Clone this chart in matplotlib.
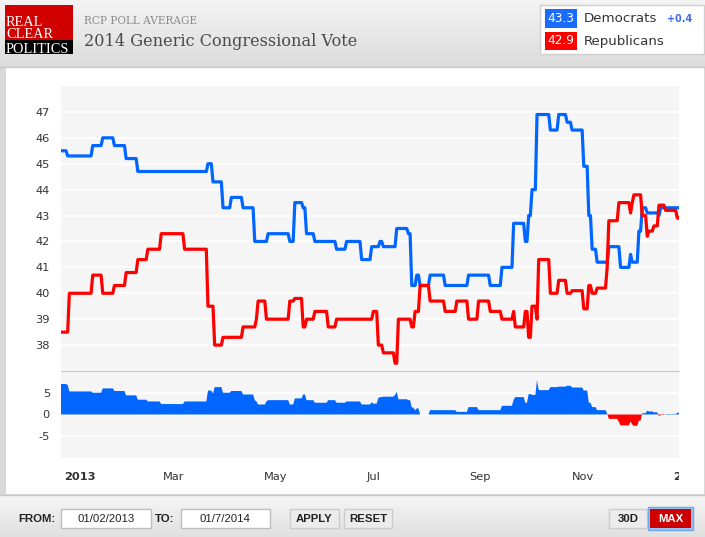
import numpy as np
import pandas as pd
import matplotlib
matplotlib.use("Agg")
import matplotlib.pyplot as plt
import matplotlib.dates as mdates
from matplotlib.patches import Rectangle
from matplotlib.colors import LinearSegmentedColormap
from matplotlib.transforms import (blended_transform_factory, ScaledTranslation,
                                   Bbox, TransformedBbox)

plt.rcParams["axes.unicode_minus"] = False

BLUE = "#0066ff"
RED = "#ff0000"

# %% data: each poll average holds from its date until the next change

dem_dates = ["2013-01-02", "2013-01-06", "2013-01-21", "2013-01-27", "2013-02-03",
             "2013-02-10", "2013-02-17", "2013-03-31", "2013-04-03", "2013-04-09",
             "2013-04-14", "2013-04-21", "2013-04-28", "2013-05-06", "2013-05-19",
             "2013-05-22", "2013-05-27", "2013-05-29", "2013-06-03", "2013-06-16",
             "2013-06-22", "2013-07-01", "2013-07-07", "2013-07-12", "2013-07-14",
             "2013-07-22", "2013-07-29", "2013-07-31", "2013-08-03", "2013-08-05",
             "2013-08-11", "2013-08-20", "2013-09-03", "2013-09-16", "2013-09-23",
             "2013-09-30", "2013-10-07", "2013-10-09", "2013-10-11", "2013-10-14",
             "2013-10-22", "2013-10-27", "2013-11-01", "2013-11-04", "2013-11-11",
             "2013-11-14", "2013-11-16", "2013-11-19", "2013-11-26", "2013-12-03",
             "2013-12-09", "2013-12-10", "2013-12-14", "2013-12-16", "2013-12-19",
             "2013-12-26", "2013-12-27"]
dem_vals = [45.5, 45.3, 45.7, 46.0, 45.7,
            45.2, 44.7, 45.0, 44.3, 43.3,
            43.7, 43.3, 42.0, 42.3, 42.0,
            43.5, 43.3, 42.3, 42.0, 41.7,
            42.0, 41.3, 41.8, 42.0, 41.8,
            42.5, 42.3, 40.3, 40.7, 40.3,
            40.7, 40.3, 40.7, 40.3, 41.0,
            42.7, 42.0, 43.0, 44.0, 46.9,
            46.3, 46.9, 46.6, 46.3, 44.9,
            43.0, 41.7, 41.2, 41.8, 41.0,
            41.5, 41.2, 42.4, 43.3, 43.1,
            43.0, 43.3]

rep_dates = ["2013-01-02", "2013-01-07", "2013-01-21", "2013-01-27", "2013-02-03",
             "2013-02-10", "2013-02-17", "2013-02-23", "2013-03-03", "2013-03-17",
             "2013-03-31", "2013-04-04", "2013-04-09", "2013-04-21", "2013-04-29",
             "2013-04-30", "2013-05-05", "2013-05-19", "2013-05-22", "2013-05-27",
             "2013-05-29", "2013-06-03", "2013-06-11", "2013-06-16", "2013-07-08",
             "2013-07-11", "2013-07-14", "2013-07-21", "2013-07-23", "2013-07-31",
             "2013-08-02", "2013-08-05", "2013-08-11", "2013-08-20", "2013-08-27",
             "2013-09-03", "2013-09-09", "2013-09-16", "2013-09-23", "2013-09-30",
             "2013-10-01", "2013-10-07", "2013-10-09", "2013-10-11", "2013-10-14",
             "2013-10-15", "2013-10-22", "2013-10-27", "2013-11-01", "2013-11-04",
             "2013-11-11", "2013-11-14", "2013-11-16", "2013-11-19", "2013-11-25",
             "2013-11-26", "2013-12-02", "2013-12-09", "2013-12-10", "2013-12-11",
             "2013-12-16", "2013-12-19", "2013-12-20", "2013-12-23", "2013-12-26",
             "2013-12-30", "2014-01-06"]
rep_vals = [38.5, 40.0, 40.7, 40.0, 40.3,
            40.8, 41.3, 41.7, 42.3, 41.7,
            39.5, 38.0, 38.3, 38.7, 39.0,
            39.7, 39.0, 39.7, 39.8, 38.7,
            39.0, 39.3, 38.7, 39.0, 39.3,
            38.0, 37.7, 37.3, 39.0, 38.7,
            39.3, 40.3, 39.7, 39.3, 39.7,
            39.0, 39.7, 39.3, 39.0, 39.3,
            38.7, 39.3, 38.3, 39.5, 39.0,
            41.3, 40.0, 40.5, 40.0, 40.1,
            39.4, 40.3, 40.0, 40.2, 41.0,
            42.8, 43.5, 43.1, 43.5, 43.8,
            43.0, 42.2, 42.4, 42.6, 43.4,
            43.2, 42.9]

month_ticks = ["2013-01-01", "2013-03-01", "2013-05-01", "2013-07-01",
               "2013-09-01", "2013-11-01", "2014-01-01"]
month_labels = ["2013", "Mar", "May", "Jul", "Sep", "Nov", "2014"]

top_yticks = list(range(38, 48))
spread_yticks = [-5, 0, 5]

dem_latest, rep_latest, dem_change = "43.3", "42.9", "+0.4"
date_from, date_to = "01/02/2013", "01/7/2014"

days = pd.date_range("2013-01-02", "2014-01-07", freq="D")
dem = pd.Series(dem_vals, index=pd.to_datetime(dem_dates)).reindex(days).ffill()
rep = pd.Series(rep_vals, index=pd.to_datetime(rep_dates)).reindex(days).ffill()
spread = (dem - rep).values

# %% page frame (pixel coordinates)

W, H = 705, 537
fig = plt.figure(figsize=(W / 100, H / 100), dpi=100)
bg = fig.add_axes([0, 0, 1, 1])
bg.axis("off")

grad = np.linspace(0, 1, 64).reshape(-1, 1)
bg.imshow(grad, cmap=LinearSegmentedColormap.from_list("h", ["#f4f4f4", "#dcdcdc"]),
          extent=[0, W, 66, 0], aspect="auto")
bg.imshow(grad, cmap=LinearSegmentedColormap.from_list("f", ["#f6f6f6", "#e0e0e0"]),
          extent=[0, W, H, 495], aspect="auto")
bg.add_patch(Rectangle((0, 66), W, 429, fc="#d9d9d9", ec="none"))
bg.add_patch(Rectangle((6, 67), 698, 427, fc="white", ec="none"))
bg.plot([0, W], [66.5, 66.5], color="#c8c8c8", lw=1)
bg.plot([0, W], [495, 495], color="#c8c8c8", lw=1)

# logo
bg.add_patch(Rectangle((5, 5), 68, 35, fc="#d00000", ec="none"))
bg.add_patch(Rectangle((5, 40), 68, 14, fc="black", ec="none"))
for txt, yb in [("REAL", 26), ("CLEAR", 38), ("POLITICS", 53)]:
    bg.text(6, yb, txt, color="white", fontsize=10.4, family="Liberation Serif",
            va="baseline", ha="left")

bg.text(84, 24, "RCP POLL AVERAGE", color="#8a8a8a", fontsize=7.6,
        family="DejaVu Serif", va="baseline")
bg.text(84, 46.5, "2014 Generic Congressional Vote", color="#4a4a4a", fontsize=11.6,
        family="DejaVu Serif", va="baseline")

# legend box
bg.add_patch(Rectangle((540, 5), 164, 49, fc="white", ec="#cfcfcf", lw=1))
bg.add_patch(Rectangle((545, 9), 32, 19, fc="#1a6cff", ec="none"))
bg.add_patch(Rectangle((545, 32), 32, 18, fc=RED, ec="none"))
bg.text(561, 18.5, dem_latest, color="white", fontsize=8.7, ha="center", va="center")
bg.text(561, 41, rep_latest, color="white", fontsize=8.7, ha="center", va="center")
bg.text(584, 18.5, "Democrats", color="#333333", fontsize=9.6, va="center")
bg.text(667, 19, dem_change, color="#3d6cf0", fontsize=6.9, weight="bold", va="center")
bg.text(584, 41, "Republicans", color="#333333", fontsize=9.6, va="center")

# date range controls
ctl = dict(fontsize=8.2, family="Liberation Sans", va="center", color="#222222")
bg.text(18, 518.5, "FROM:", weight="bold", **ctl)
bg.add_patch(Rectangle((61, 509), 90, 19, fc="white", ec="#bdbdbd", lw=1))
bg.text(106, 518.5, date_from, ha="center", **ctl)
bg.text(155, 518.5, "TO:", weight="bold", **ctl)
bg.add_patch(Rectangle((181, 509), 89, 19, fc="white", ec="#bdbdbd", lw=1))
bg.text(225, 518.5, date_to, ha="center", **ctl)
for x0, w, lbl in [(290, 49, "APPLY"), (344, 48, "RESET"), (609, 38, "30D")]:
    bg.add_patch(Rectangle((x0, 509), w, 19, fc="#ececec", ec="#cccccc", lw=1))
    bg.text(x0 + w / 2, 518.5, lbl, ha="center", weight="bold", **ctl)
bg.add_patch(Rectangle((648, 507), 45, 23, fc="#9cc4f2", ec="#6fa6ea", lw=1))
bg.add_patch(Rectangle((650, 509), 41, 19, fc="#cc0000", ec="none"))
bg.text(670.5, 518.5, "MAX", ha="center", weight="bold", fontsize=8.2,
        family="Liberation Sans", va="center", color="white")

bg.set_xlim(0, W)
bg.set_ylim(H, 0)

# %% charts

ax = fig.add_axes([61 / W, (H - 371) / H, 618 / W, 285 / H])
ax2 = fig.add_axes([61 / W, (H - 458) / H, 618 / W, 87 / H], sharex=ax)

for a in (ax, ax2):
    a.set_facecolor("#f5f5f5")
    for s in a.spines.values():
        s.set_visible(False)
    a.grid(axis="y", color="white", lw=1.2)
    a.set_axisbelow(True)
    a.tick_params(length=0, labelsize=8.2, labelcolor="#333333", pad=8)
    a.tick_params(axis="x", labelbottom=False)

ax.plot(days, dem.values, color=BLUE, lw=2.3)
ax.plot(days, rep.values, color=RED, lw=2.3)
ax.set_yticks(top_yticks)
ax.set_ylim(37, 48)

ax2.fill_between(days, spread, 0, where=spread >= 0, interpolate=True,
                 color=BLUE, lw=0)
ax2.fill_between(days, spread, 0, where=spread <= 0, interpolate=True,
                 color=RED, lw=0)
ax2.set_yticks(spread_yticks)
ax2.set_ylim(-10, 10)
ax2.spines["top"].set_visible(True)
ax2.spines["top"].set_color("#cccccc")
ax2.set_xlim(days[0], days[-1])

# month labels start just right of their tick, clipped at the plot edge
trans = blended_transform_factory(ax2.transData, ax2.transAxes) + \
    ScaledTranslation(0.045, 0, fig.dpi_scale_trans)
clip = TransformedBbox(Bbox([[0, -1], [1, 0]]), ax2.transAxes)
for d, lbl in zip(month_ticks, month_labels):
    t = ax2.text(mdates.date2num(pd.Timestamp(d)), -0.215, lbl, transform=trans,
                 ha="left", va="center", fontsize=8.2, color="#333333",
                 weight="bold" if lbl.isdigit() else "normal")
    t.set_clip_box(clip)
    t.set_clip_on(True)

fig.savefig("out.png", dpi=100)
